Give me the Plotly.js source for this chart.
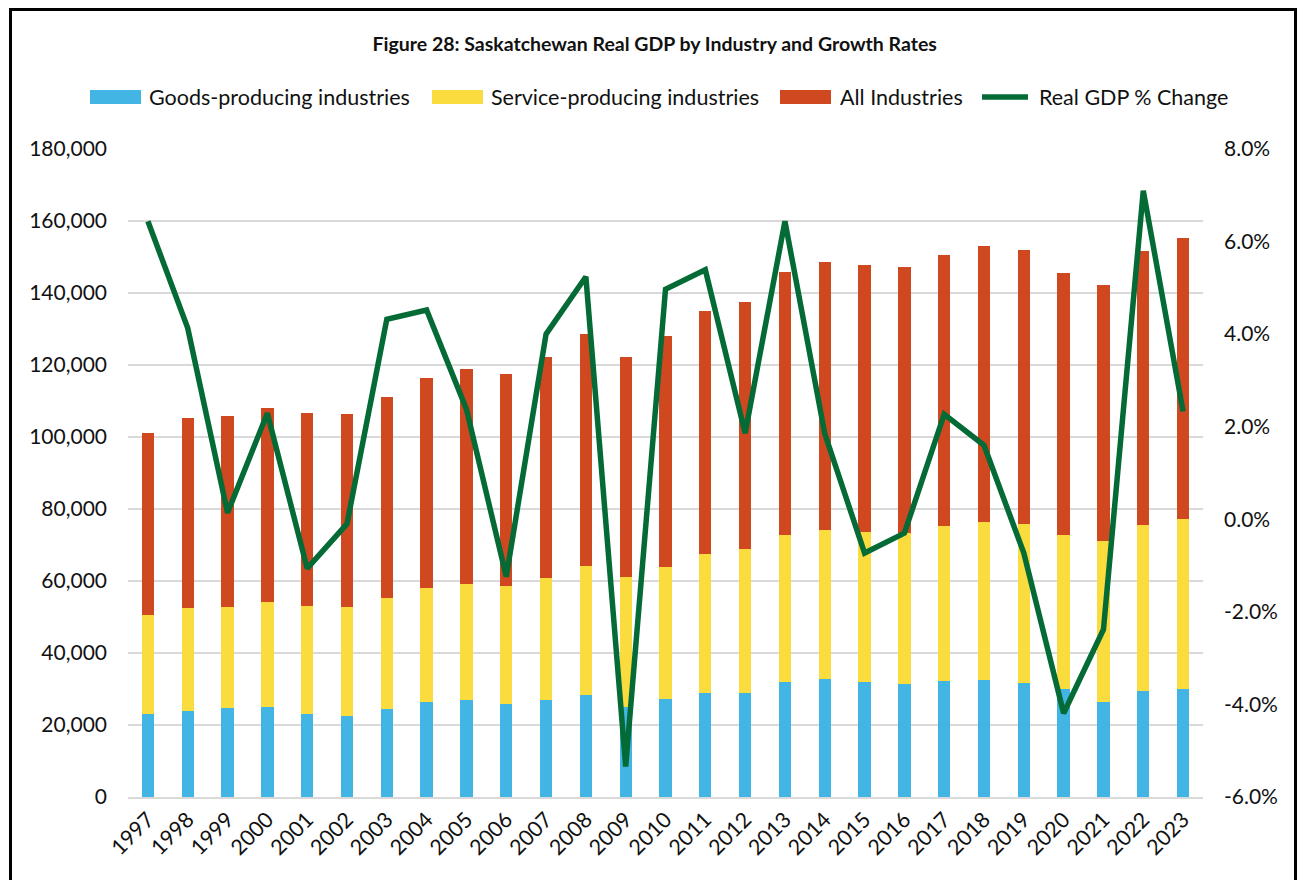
<!DOCTYPE html>
<html>
<head>
<meta charset="utf-8">
<script src="https://cdn.plot.ly/plotly-3.0.1.min.js"></script>
<style>
  html, body { margin: 0; padding: 0; background: #fff; overflow: hidden; }
  #chart { width: 1299px; height: 880px; }
  #frame { position: absolute; left: 9px; top: 8px; width: 1282px; height: 900px;
           border: 3px solid #000; pointer-events: none; }
</style>
</head>
<body>
<div id="chart"></div>
<div id="frame"></div>
<script>
const years = ['1997','1998','1999','2000','2001','2002','2003','2004','2005','2006','2007','2008','2009','2010','2011','2012','2013','2014','2015','2016','2017','2018','2019','2020','2021','2022','2023'];
const goodsProducing = [23100,24000,24700,25000,23100,22600,24400,26300,26900,25900,26900,28300,25000,27100,28800,29000,32000,32700,31900,31500,32300,32600,31800,30000,26400,29500,30100];
const serviceProducing = [27400,28600,28200,29100,30000,30300,30900,31700,32400,32700,34000,35900,36100,36900,38600,39800,40900,41600,41800,41900,43000,43800,44000,42800,44800,46100,47200];
const allIndustries = [50700,52800,52900,54000,53500,53400,55800,58300,59600,58900,61400,64400,61000,64100,67600,68700,73000,74400,74000,73800,75300,76600,76100,72700,71100,76200,78100];
const gdpPctChange = [6.44,4.13,0.14,2.29,-1.06,-0.10,4.32,4.52,2.38,-1.24,4.00,5.24,-5.34,4.97,5.39,1.86,6.44,1.85,-0.73,-0.30,2.27,1.60,-0.73,-4.19,-2.38,7.10,2.33];
const pctTicks = [-6,-4,-2,0,2,4,6,8];
const pctTickLabels = ['-6.0%','-4.0%','-2.0%','0.0%','2.0%','4.0%','6.0%','8.0%'];
const seriesNames = ['Goods-producing industries','Service-producing industries','All Industries','Real GDP % Change'];
const titleText = 'Figure 28: Saskatchewan Real GDP by Industry and Growth Rates';

const colors = ['#43B5E5', '#FBDC3F', '#CF4820', '#056B36'];
const FONT = 'Lato, "Open Sans", sans-serif';
const TXT = '#111';

const traces = [
  { type: 'bar', x: years, y: goodsProducing, name: seriesNames[0], marker: { color: colors[0] } },
  { type: 'bar', x: years, y: serviceProducing, name: seriesNames[1], marker: { color: colors[1] } },
  { type: 'bar', x: years, y: allIndustries, name: seriesNames[2], marker: { color: colors[2] } },
  { type: 'scatter', mode: 'lines', x: years, y: gdpPctChange, yaxis: 'y2', name: seriesNames[3],
    line: { color: colors[3], width: 5.5 } }
];

// plot area in pixels
const L = 128, R = 1203, T = 149, B = 797;
const px2x = p => (p - L) / (R - L);
const py2y = p => (B - p) / (B - T);

const legendY = 97;
const legendItems = [
  { sw: [90, 141], tx: 147, kind: 'rect', color: colors[0], label: seriesNames[0] },
  { sw: [432, 483], tx: 489, kind: 'rect', color: colors[1], label: seriesNames[1] },
  { sw: [780, 831], tx: 838, kind: 'rect', color: colors[2], label: seriesNames[2] },
  { sw: [979, 1031], tx: 1037, kind: 'line', color: colors[3], label: seriesNames[3] }
];
const shapes = [], annotations = [];
legendItems.forEach(it => {
  if (it.kind === 'rect') {
    shapes.push({ type: 'rect', xref: 'paper', yref: 'paper', x0: px2x(it.sw[0]), x1: px2x(it.sw[1]),
      y0: py2y(legendY + 7), y1: py2y(legendY - 7), fillcolor: it.color, line: { width: 0 } });
  } else {
    shapes.push({ type: 'line', xref: 'paper', yref: 'paper', x0: px2x(it.sw[0] + 3), x1: px2x(it.sw[1] - 3),
      y0: py2y(legendY), y1: py2y(legendY), line: { color: it.color, width: 5.5 } });
  }
  annotations.push({ xref: 'paper', yref: 'paper', x: px2x(it.tx), y: py2y(legendY), xanchor: 'left', yanchor: 'middle',
    text: it.label, showarrow: false, font: { family: FONT, size: 21.5, color: TXT } });
});

const layout = {
  width: 1299, height: 880,
  margin: { l: L, r: 1299 - R, t: T, b: 880 - B, pad: 0 },
  paper_bgcolor: '#fff', plot_bgcolor: '#fff',
  barmode: 'stack', bargap: 0.69,
  showlegend: false,
  title: { text: '<b>' + titleText + '</b>', x: 0.504, xanchor: 'center', y: 1 - 44 / 880, yanchor: 'middle',
    font: { family: FONT, size: 19.5, color: TXT } },
  xaxis: { type: 'category', tickangle: -45, tickfont: { family: FONT, size: 21.5, color: TXT },
    showgrid: false, showline: true, linecolor: '#d9d9d9', linewidth: 1.5, ticks: '', zeroline: false },
  yaxis: { range: [0, 180000], dtick: 20000, tick0: 0, tickformat: ',', showgrid: true, gridcolor: '#d9d9d9', gridwidth: 1.5,
    zeroline: false, showline: false, ticks: '', ticklabelstandoff: 20,
    tickfont: { family: FONT, size: 21, color: TXT } },
  yaxis2: { overlaying: 'y', side: 'right', range: [-6, 8], tickmode: 'array', tickvals: pctTicks, ticktext: pctTickLabels,
    showgrid: false, zeroline: false, showline: false, ticks: '', ticklabelstandoff: 20,
    tickfont: { family: FONT, size: 21, color: TXT } },
  shapes: shapes,
  annotations: annotations
};

Plotly.newPlot('chart', traces, layout, { staticPlot: true, displayModeBar: false });
</script>
</body>
</html>
